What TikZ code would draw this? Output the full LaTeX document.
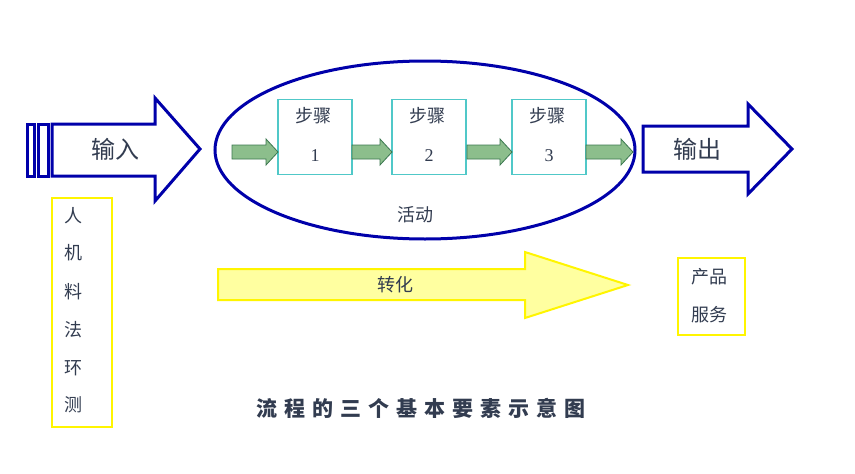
\documentclass[tikz,border=0pt]{standalone}
\usepackage{fontspec}
\newfontfamily\cjk{Noto Sans CJK SC}
\setmainfont{Liberation Serif}
\definecolor{dblue}{RGB}{0,0,170}
\definecolor{teal1}{RGB}{80,200,200}
\definecolor{gfill}{RGB}{140,190,140}
\definecolor{gline}{RGB}{60,120,80}
\definecolor{yl}{RGB}{255,245,0}
\definecolor{yfill}{RGB}{255,255,160}
\definecolor{txt}{RGB}{50,60,80}
\tikzset{
  bigarrow/.style={draw=dblue,line width=3pt,fill=white,line join=miter},
  stepbox/.style={draw=teal1,line width=1.5pt,minimum width=74pt,minimum height=75pt},
  garrow/.style={draw=gline,fill=gfill,line width=0.8pt},
  ybox/.style={draw=yl,line width=2pt},
  lbl/.style={text=txt,font=\cjk\fontsize{24}{28}\selectfont},
  slbl/.style={text=txt,font=\cjk\fontsize{18}{22}\selectfont}
}
\begin{document}
\begin{tikzpicture}[x=1pt,y=-1pt]
\useasboundingbox[fill=white] (0,0) rectangle (855,474);
% input arrow
\draw[bigarrow] (27,124) rectangle (34,176);
\draw[bigarrow] (38,124) rectangle (48,176);
\draw[bigarrow] (52,124) -- (155,124) -- (155,98) -- (200,149) -- (155,201) -- (155,176) -- (52,176) -- cycle;
\node[lbl] (in) at (115,149) {输入};
% ellipse
\draw[draw=dblue,line width=3pt] (425,150) ellipse (210pt and 89pt);
\node[slbl] (act) at (415,215) {活动};
% steps
\foreach \n/\x/\k in {s1/315/1,s2/429/2,s3/549/3}{
  \node[stepbox] (\n) at (\x,137) {};
  \node[slbl] at (\x-2,116) {步骤};
  \node[text=txt,font=\fontsize{18}{20}\selectfont] at (\x,156) {\k};
}
\foreach \a/\b in {232/278,352/392,467/512,586/633}{
  \draw[garrow] (\a,145) -- (\b-12,145) -- (\b-12,139) -- (\b,152) -- (\b-12,165) -- (\b-12,159) -- (\a,159) -- cycle;
}
% output arrow
\draw[bigarrow] (643,126) -- (748,126) -- (748,104) -- (792,149) -- (748,194) -- (748,172) -- (643,172) -- cycle;
\node[lbl] (out) at (697,149) {输出};
% transform arrow
\draw[draw=yl,fill=yfill,line width=2pt] (218,269) -- (525,269) -- (525,252) -- (628,285) -- (525,318) -- (525,300) -- (218,300) -- cycle;
\node[slbl] (tr) at (395,285) {转化};
% left yellow box
\draw[ybox] (52,198) rectangle (112,427);
\foreach \t/\y in {人/216,机/253,料/292,法/330,环/368,测/405}{
  \node[slbl] at (73,\y) {\t};
}
% right yellow box
\draw[ybox] (678,258) rectangle (745,335);
\node[slbl] (p1) at (709,277) {产品};
\node[slbl] (p2) at (709,315) {服务};
% title
\node[text=txt,font=\cjk\bfseries\fontsize{21}{24}\selectfont] (title) at (421,408) {流\,\,程\,\,的\,\,三\,\,个\,\,基\,\,本\,\,要\,\,素\,\,示\,\,意\,\,图};
\end{tikzpicture}
\end{document}
